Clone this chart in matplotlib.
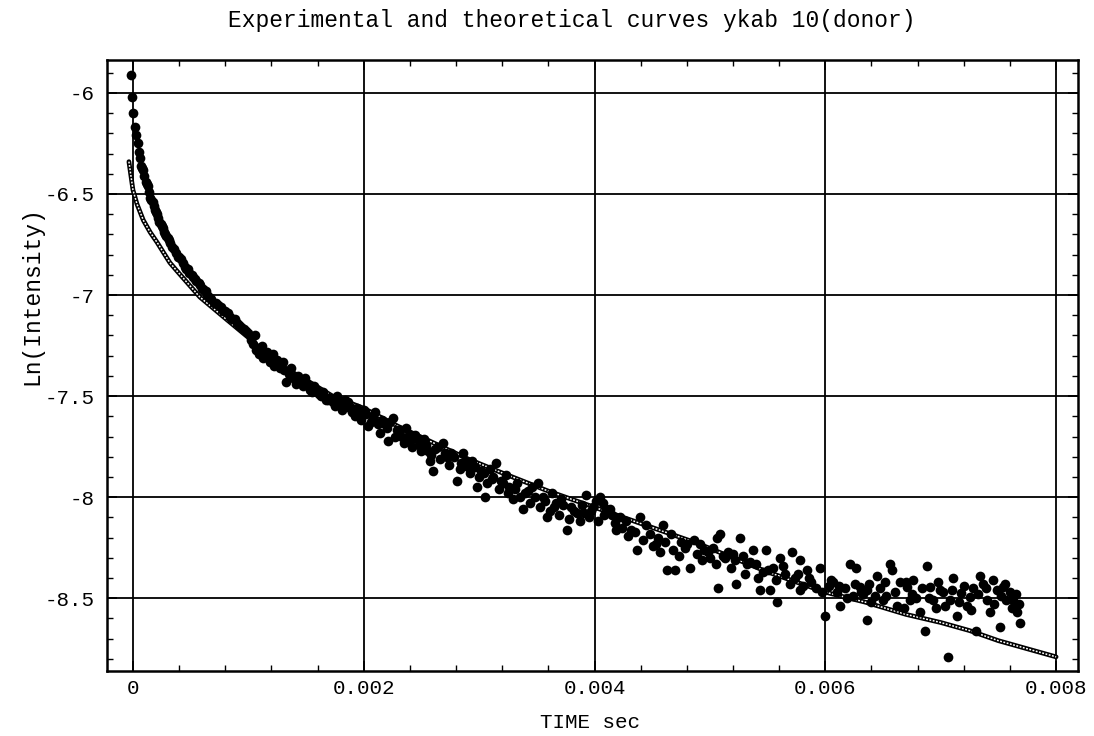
import matplotlib
matplotlib.use('Agg')
from matplotlib import pyplot as plt
from matplotlib.ticker import MultipleLocator, FuncFormatter

plt.rcParams['font.family'] = ['Liberation Mono', 'DejaVu Sans Mono']
plt.rcParams['axes.unicode_minus'] = False

# theoretical curve (time in ms, Ln(Intensity))
theo_t = [-0.035, 0.0, 0.035, 0.09, 0.15, 0.21, 0.32, 0.38, 0.58, 0.81, 1.0,
          1.25, 1.5, 1.73, 2.0, 2.3, 2.6, 2.9, 3.2, 3.6, 4.0, 4.3, 4.6, 4.9,
          5.2, 5.5, 5.8, 6.0, 6.35, 6.7, 7.0, 7.25, 7.5, 7.75, 8.0]
theo_y = [-6.34, -6.48, -6.55, -6.63, -6.69, -6.74, -6.84, -6.88, -7.01, -7.12, -7.21,
          -7.34, -7.42, -7.50, -7.56, -7.65, -7.73, -7.81, -7.88, -7.97, -8.05, -8.11, -8.17, -8.23,
          -8.30, -8.37, -8.43, -8.47, -8.52, -8.58, -8.62, -8.66, -8.71, -8.75, -8.79]

# experimental points (time in ms, Ln(Intensity))
exp_t = [-0.02, -0.01, 0.0, 0.02, 0.03, 0.04, 0.05, 0.06, 0.08, 0.10, 0.12, 0.14, 0.16,
         0.18, 0.20, 0.22, 0.24, 0.26, 0.28, 0.30, 0.32, 0.34, 0.37, 0.40, 0.43, 0.46,
         0.49, 0.52, 0.55, 0.58, 0.61, 0.64, 0.68, 0.72, 0.76, 0.80, 0.84, 0.88, 0.92,
         0.96, 1.00, 1.04, 1.07, 1.10, 1.13, 1.16, 1.19, 1.22, 1.25, 1.33, 1.31, 1.35,
         1.39, 1.43, 1.47, 1.51, 1.55, 1.59, 1.63, 1.67, 1.69, 1.71, 1.75, 1.79,
         1.82, 1.86, 1.90, 1.94, 1.98, 2.02, 2.06, 2.10, 2.14, 2.18, 2.21, 2.25, 2.29,
         2.33, 2.37, 2.40, 2.44, 2.48, 2.52, 2.56, 2.57, 2.60, 2.64, 2.69, 2.72, 2.76,
         2.81, 2.84, 2.86, 2.90, 2.94, 2.98, 3.02, 3.05, 3.09, 3.12, 3.15, 3.19, 3.23,
         3.26, 3.29, 3.33, 3.38, 3.42, 3.46, 3.51, 3.55, 3.59, 3.63, 3.67, 3.71, 3.76,
         3.80, 3.85, 3.89, 3.93, 3.97, 4.01, 4.05, 4.07, 4.10,
         4.13, 4.22, 4.19, 4.39, 4.37, 4.51, 4.59, 4.63, 4.70, 4.80, 4.83, 4.91, 5.00,
         5.06, 5.07, 5.09, 5.20, 5.23, 5.26, 5.32, 5.37, 5.43, 5.49, 5.52, 5.58, 5.61,
         5.71, 5.78, 5.78, 5.84, 5.95, 6.00, 6.07, 6.13, 6.21, 6.27, 6.30, 6.36, 6.36,
         6.45, 6.50, 6.56, 6.58, 6.62, 6.65, 6.71, 6.73, 6.76, 6.82, 6.86, 6.88, 6.91,
         6.93, 6.99, 7.06, 7.08, 7.11, 7.14, 7.18, 7.23, 7.25, 7.31, 7.34, 7.37, 7.40,
         7.43, 7.49, 7.51, 7.54, 7.57, 7.63, 7.66, 7.69,
         4.15, 4.27, 4.32, 4.45, 4.55, 4.66, 4.75, 4.86, 4.95, 5.03, 5.13, 5.16, 5.29,
         5.40, 5.46, 5.55, 5.65, 5.74, 5.88, 5.92, 6.03, 6.10, 6.17, 6.24, 6.33, 6.40,
         6.47, 6.53, 6.68, 6.79, 6.96, 7.02, 7.16, 7.28, 7.46, 7.60, 7.68]
exp_y = [-5.91, -6.02, -6.10, -6.17, -6.21, -6.25, -6.29, -6.32, -6.37, -6.41, -6.45, -6.49, -6.53,
         -6.56, -6.59, -6.62, -6.65, -6.67, -6.70, -6.72, -6.74, -6.76, -6.79, -6.81, -6.84, -6.87,
         -6.89, -6.91, -6.93, -6.95, -6.97, -7.00, -7.02, -7.04, -7.06, -7.08, -7.11, -7.12, -7.15,
         -7.17, -7.19, -7.24, -7.27, -7.26, -7.31, -7.28, -7.33, -7.35, -7.32, -7.43, -7.37, -7.39,
         -7.41, -7.40, -7.45, -7.44, -7.48, -7.47, -7.50, -7.52, -7.52, -7.51, -7.55, -7.54,
         -7.55, -7.53, -7.58, -7.56, -7.62, -7.59, -7.63, -7.58, -7.68, -7.64, -7.72, -7.61, -7.67,
         -7.70, -7.66, -7.72, -7.69, -7.74, -7.71, -7.77, -7.82, -7.87, -7.75, -7.73, -7.80, -7.78,
         -7.92, -7.83, -7.78, -7.85, -7.82, -7.95, -7.87, -8.00, -7.86, -7.90, -7.83, -7.92, -7.89,
         -7.95, -8.01, -7.93, -8.06, -7.97, -7.95, -7.93, -8.00, -8.10, -7.98, -8.03, -8.01, -8.16,
         -8.05, -8.08, -8.04, -7.99, -8.07, -8.02, -8.00, -8.03, -8.06,
         -8.06, -8.10, -8.16, -8.10, -8.26, -8.24, -8.14, -8.36, -8.36, -8.23, -8.35, -8.23, -8.30,
         -8.20, -8.45, -8.18, -8.28, -8.43, -8.20, -8.33, -8.26, -8.46, -8.26, -8.46, -8.52, -8.30,
         -8.27, -8.31, -8.46, -8.36, -8.35, -8.59, -8.42, -8.54, -8.33, -8.35, -8.445, -8.46, -8.61,
         -8.39, -8.51, -8.33, -8.36, -8.54, -8.42, -8.445, -8.51, -8.41, -8.57, -8.66, -8.34, -8.445,
         -8.51, -8.46, -8.79, -8.51, -8.40, -8.59, -8.475, -8.54, -8.495, -8.66, -8.39, -8.43, -8.51,
         -8.57, -8.46, -8.64, -8.445, -8.51, -8.51, -8.57, -8.62,
         -8.09, -8.12, -8.16, -8.14, -8.20, -8.18, -8.22, -8.21, -8.26, -8.25, -8.30, -8.27, -8.29,
         -8.33, -8.37, -8.35, -8.38, -8.40, -8.42, -8.45, -8.44, -8.47, -8.45, -8.49, -8.48, -8.52,
         -8.45, -8.49, -8.55, -8.50, -8.55, -8.47, -8.52, -8.45, -8.53, -8.47, -8.53]

# more experimental points filling the dense band
band_t = [0.07, 0.09, 0.11, 0.13, 0.15, 0.17, 0.19, 0.21, 0.23, 0.25, 0.27, 0.29, 0.31,
          0.36, 0.39, 0.42, 0.45, 0.48, 0.51, 0.54, 0.57, 0.60, 0.63, 0.66, 0.70, 0.74,
          0.78, 0.82, 0.86, 0.90, 0.94, 0.98,
          1.02, 1.06, 1.09, 1.12, 1.18, 1.21, 1.27, 1.30, 1.37, 1.41, 1.45, 1.49, 1.53,
          1.57, 1.61, 1.65, 1.73, 1.77, 1.81, 1.84, 1.88, 1.92, 1.96, 2.00, 2.04, 2.08,
          2.12, 2.16, 2.20, 2.23, 2.27, 2.31, 2.35, 2.39, 2.42, 2.46, 2.50, 2.54, 2.58,
          2.62, 2.66, 2.70, 2.74, 2.78, 2.83, 2.88, 2.92, 2.96, 3.00, 3.04, 3.07, 3.11,
          3.17, 3.21, 3.25, 3.31, 3.35, 3.40, 3.44, 3.48, 3.53, 3.57, 3.61, 3.65, 3.69,
          3.73, 3.78, 3.82, 3.87, 3.91, 3.95, 3.99, 4.03, 4.08, 4.18, 4.24, 4.29, 4.35,
          4.42, 4.48, 4.53, 4.57, 4.61, 4.68, 4.73, 4.78, 4.89, 4.93, 4.98, 5.05, 5.11,
          5.18, 5.22, 5.30, 5.35, 5.42, 5.50, 5.57, 5.63, 5.69, 5.76, 5.81, 5.86, 5.97,
          6.05, 6.12, 6.19, 6.26, 6.31, 6.38, 6.43, 6.52, 6.60, 6.70, 6.75, 6.84, 6.90,
          6.98, 7.04, 7.10, 7.20, 7.26, 7.32, 7.39, 7.45, 7.52, 7.56, 7.62, 7.65]
band_y = [-6.36, -6.38, -6.44, -6.46, -6.52, -6.54, -6.58, -6.60, -6.64, -6.66, -6.69, -6.71, -6.73,
          -6.77, -6.81, -6.82, -6.86, -6.87, -6.90, -6.92, -6.94, -6.97, -6.98, -7.01, -7.04, -7.05,
          -7.08, -7.09, -7.12, -7.14, -7.16, -7.18,
          -7.22, -7.20, -7.29, -7.25, -7.30, -7.29, -7.36, -7.33, -7.36, -7.44, -7.42, -7.41, -7.47,
          -7.45, -7.49, -7.48, -7.53, -7.50, -7.57, -7.52, -7.56, -7.60, -7.58, -7.57, -7.65, -7.61,
          -7.64, -7.62, -7.66, -7.63, -7.70, -7.67, -7.73, -7.69, -7.75, -7.71, -7.77, -7.74, -7.79,
          -7.76, -7.81, -7.78, -7.84, -7.80, -7.86, -7.82, -7.88, -7.85, -7.90, -7.88, -7.93, -7.91,
          -7.96, -7.93, -7.98, -7.96, -8.00, -7.98, -8.03, -8.00, -8.05, -8.02, -8.07, -8.05, -8.09,
          -8.04, -8.11, -8.07, -8.12, -8.08, -8.10, -8.05, -8.12, -8.09, -8.13, -8.15, -8.19, -8.17,
          -8.21, -8.18, -8.23, -8.27, -8.22, -8.26, -8.29, -8.25, -8.28, -8.31, -8.27, -8.33, -8.29,
          -8.35, -8.31, -8.38, -8.32, -8.40, -8.36, -8.41, -8.34, -8.43, -8.38, -8.44, -8.40, -8.47,
          -8.41, -8.44, -8.50, -8.43, -8.47, -8.43, -8.49, -8.42, -8.47, -8.42, -8.48, -8.45, -8.50,
          -8.42, -8.54, -8.46, -8.44, -8.56, -8.48, -8.45, -8.41, -8.49, -8.43, -8.55, -8.48]

x_ticks = [0, 0.002, 0.004, 0.006, 0.008]
y_ticks = [-6, -6.5, -7, -7.5, -8, -8.5]

fig = plt.figure(figsize=(10.94, 7.36), dpi=100)
ax = fig.add_axes([0.0978, 0.0883, 0.8876, 0.8302])

# theoretical: chain of small open circles -> black band with white centre
tt = [t * 1e-3 for t in theo_t]
ax.plot(tt, theo_y, color='black', lw=3.4, solid_capstyle='round', zorder=3)
ax.plot(tt, theo_y, color='white', lw=1.1, ls=(0, (1.2, 1.0)), zorder=4)

# experimental: filled dots
all_t = [t * 1e-3 for t in exp_t + band_t]
all_y = exp_y + band_y
ax.plot(all_t, all_y, 'o', color='black', ms=7, mew=0, zorder=5)

ax.set_xlim(-0.000225, 0.00819)
ax.set_ylim(-8.86, -5.837)

ax.set_xticks(x_ticks)
ax.set_yticks(y_ticks)
ax.xaxis.set_minor_locator(MultipleLocator(0.0004))
ax.yaxis.set_minor_locator(MultipleLocator(0.1))
ax.xaxis.set_major_formatter(FuncFormatter(lambda v, p: '0' if abs(v) < 1e-12 else '%g' % v))
ax.yaxis.set_major_formatter(FuncFormatter(lambda v, p: '%g' % v))

ax.grid(True, which='major', color='black', lw=1.3)
ax.set_axisbelow(True)
for s in ax.spines.values():
    s.set_linewidth(1.8)

ax.tick_params(which='both', direction='in', top=True, right=True, color='black')
ax.tick_params(which='major', length=7, width=1.3, labelsize=15)
ax.tick_params(which='minor', length=4, width=1.0)
ax.tick_params(axis='x', which='major', pad=6)
ax.tick_params(axis='y', which='major', pad=9)

fig.text(572 / 1094, 1 - 20 / 736, 'Experimental and theoretical curves ykab 10(donor)',
         ha='center', va='center', fontsize=16.5)
fig.text(590 / 1094, 1 - 722 / 736, 'TIME sec', ha='center', va='center', fontsize=15)
fig.text(32 / 1094, 1 - 296 / 736, 'Ln(Intensity)', ha='center', va='center',
         rotation=90, fontsize=16.5)

plt.savefig('out.png', dpi=100)
